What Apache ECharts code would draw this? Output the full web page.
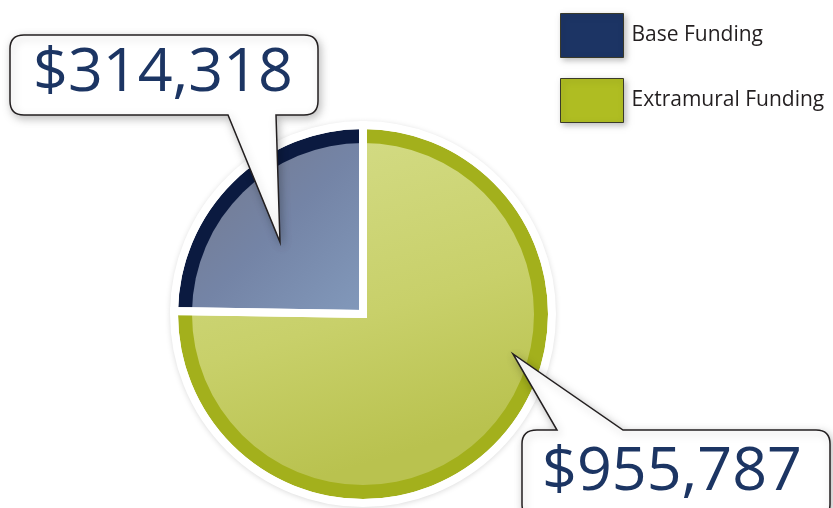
<!DOCTYPE html>
<html>
<head>
<meta charset="utf-8">
<script src="https://cdn.jsdelivr.net/npm/echarts@6/dist/echarts.min.js"></script>
<style>
html,body{margin:0;padding:0;background:#fff;}
#c{width:833px;height:508px;}
</style>
</head>
<body>
<div id="c"></div>
<script>
// Data
var categories = ['Extramural Funding', 'Base Funding'];
var values = [955787, 314318];
var legendOrder = ['Base Funding', 'Extramural Funding'];

// Styles
var ringColors = {'Extramural Funding': '#a3b01c', 'Base Funding': '#0b1a40'};
var legendColors = {'Extramural Funding': '#afbd22', 'Base Funding': '#1c3464'};
var fillColors = {
  'Extramural Funding': {type:'linear', x:0, y:0, x2:0.3, y2:1, colorStops:[{offset:0,color:'#d5dd89'},{offset:0.6,color:'#c8d06a'},{offset:1,color:'#b9c24f'}]},
  'Base Funding': {type:'linear', x:0, y:0, x2:1, y2:1, colorStops:[{offset:0,color:'#74798c'},{offset:0.5,color:'#7484a6'},{offset:1,color:'#8299bb'}]}
};
var labelPos = {
  'Base Funding': {x:163, y:74},
  'Extramural Funding': {x:672, y:473}
};

var bubble1Path = 'M 24 35 L 304 35 Q 318 35 318 49 L 318 101 Q 318 115 304 115 L 276 115 L 280 242 L 228 115 L 24 115 Q 10 115 10 101 L 10 49 Q 10 35 24 35 Z';
var bubble2Path = 'M 537 430 L 557 430 L 513 354 L 623 430 L 816 430 Q 830 430 830 444 L 830 504 Q 830 518 816 518 L 536 518 Q 522 518 522 504 L 522 444 Q 522 430 537 430 Z';
echarts.graphic.registerShape('bubble1', echarts.graphic.extendPath(bubble1Path, {}));
echarts.graphic.registerShape('bubble2', echarts.graphic.extendPath(bubble2Path, {}));

function makeData(colorMap) {
  return categories.map(function (n, i) {
    var d = {name: n, value: values[i]};
    if (colorMap) d.itemStyle = {color: colorMap[n]};
    return d;
  });
}

var center = [363, 314];
var common = {
  type: 'pie', center: center, startAngle: 90, clockwise: true,
  silent: true, label: {show: false}, labelLine: {show: false},
  emphasis: {disabled: true}, animation: false, avoidLabelOverlap: false
};
var bubbleStyle = {fill: '#fff', stroke: '#231f20', lineWidth: 1.5, shadowBlur: 8, shadowColor: 'rgba(0,0,0,0.25)', shadowOffsetX: 2, shadowOffsetY: 3};

var chart = echarts.init(document.getElementById('c'), null, {renderer: 'canvas'});
chart.setOption({
  backgroundColor: '#fff',
  legend: {
    orient: 'vertical', left: 560, top: 13, padding: 0,
    itemWidth: 63, itemHeight: 44, itemGap: 20,
    icon: 'rect',
    selectedMode: false,
    textStyle: {fontFamily: 'Open Sans', fontSize: 21, color: '#231f20', padding: [0, 0, 0, 3]},
    data: legendOrder.map(function (n) {
      return {name: n, itemStyle: {color: legendColors[n], borderColor: '#3a3a2a', borderWidth: 1,
        shadowBlur: 6, shadowColor: 'rgba(0,0,0,0.25)', shadowOffsetX: 2, shadowOffsetY: 2}};
    })
  },
  graphic: [
    {type: 'bubble1', z: 50, shape: {}, style: bubbleStyle},
    {type: 'bubble2', z: 50, shape: {}, style: bubbleStyle}
  ],
  series: [
    Object.assign({}, common, {
      name: 'shadow', z: 1, radius: [0, 192],
      data: makeData({'Extramural Funding': '#fff', 'Base Funding': '#fff'}),
      itemStyle: {shadowBlur: 6, shadowColor: 'rgba(0,0,0,0.18)', shadowOffsetY: 1}
    }),
    Object.assign({}, common, {
      name: 'ring', z: 2, radius: [0, 185],
      data: makeData(ringColors)
    }),
    Object.assign({}, common, {
      name: 'fill', z: 3, radius: [0, 171],
      data: makeData(fillColors)
    }),
    Object.assign({}, common, {
      name: 'gaps', z: 4, radius: [0, 189],
      data: makeData({'Extramural Funding': 'rgba(0,0,0,0)', 'Base Funding': 'rgba(0,0,0,0)'}),
      itemStyle: {borderColor: '#fff', borderWidth: 8, borderJoin: 'miter'}
    }),
    Object.assign({}, common, {
      name: 'labels', z: 100, zlevel: 1, radius: [0, 185],
      data: makeData({'Extramural Funding': 'rgba(0,0,0,0)', 'Base Funding': 'rgba(0,0,0,0)'}),
      label: {
        show: true, position: 'outside',
        fontFamily: 'Open Sans', fontSize: 61, color: '#1c3563',
        formatter: function (p) { return '$' + p.value.toLocaleString('en-US'); }
      },
      labelLine: {show: false},
      labelLayout: function (p) {
        var pos = labelPos[categories[p.dataIndex]];
        return {x: pos.x, y: pos.y, align: 'center', verticalAlign: 'middle'};
      }
    })
  ]
});
</script>
</body>
</html>
